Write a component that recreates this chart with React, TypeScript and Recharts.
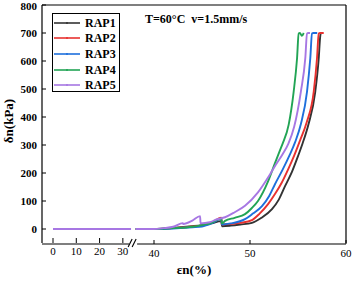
import React from "react";
import { Label, Legend, Line, LineChart, ReferenceDot, XAxis, YAxis } from "recharts";

const serif = "'Liberation Serif', 'Times New Roman', serif";

const seriesNames = ["RAP1", "RAP2", "RAP3", "RAP4", "RAP5"];
const seriesColors = ["#333333", "#e8312f", "#1e6fdc", "#22a455", "#a777e3"];

// before the axis break: stress stays at 0
const leftPart: [number, number][] = [
  [0, 0],
  [33.5, 0],
];

// after the axis break, [strain %, stress kPa]
const rap1: [number, number][] = [
  [38.1, 0], [40, 0], [42, 4], [44, 10], [45, 14], [46, 20], [47, 28], [47.08, 10],
  [48, 12], [49, 16], [50.2, 22], [51.2, 40], [52.29, 71], [53, 105], [53.65, 153],
  [54.38, 205], [55, 260], [55.5, 308], [56.1, 375], [56.8, 491], [57.16, 610],
  [57.32, 690], [57.4, 700], [57.6, 700],
];
const rap2: [number, number][] = [
  [38.1, 0], [40, 0], [42, 3], [44, 9], [45, 13], [46, 22], [47, 40], [47.08, 16],
  [48, 18], [49, 22], [50.2, 32], [51, 55], [51.88, 89], [52.6, 125], [53.33, 167],
  [53.96, 212], [54.6, 262], [55.2, 315], [55.9, 380], [56.64, 491], [56.98, 610],
  [57.16, 698], [57.3, 700], [57.68, 700],
];
const rap3: [number, number][] = [
  [38.1, 0], [40, 0], [42, 2], [44, 6], [45, 9], [46, 20], [47, 36], [47.08, 16],
  [48, 20], [49.48, 35], [50.3, 55], [51.25, 82], [52, 118], [52.6, 160], [53.4, 212],
  [54.1, 262], [54.7, 310], [55.3, 375], [55.94, 491], [56.28, 610], [56.46, 698],
  [56.6, 700], [57, 700],
];
const rap4: [number, number][] = [
  [38.1, 0], [40, 0], [42, 3], [44, 8], [45, 14], [46, 22], [47, 38], [47.08, 20],
  [47.4, 29], [48.4, 40], [49.48, 53], [50.2, 75], [50.83, 100], [51.88, 170],
  [52.6, 235], [53.13, 282], [53.4, 305], [54.03, 373], [54.55, 491], [54.9, 609],
  [55.07, 698], [55.2, 700], [55.4, 690], [55.6, 700],
];
const rap5: [number, number][] = [
  [38.1, 0], [40, 0], [41, 3], [42, 8], [43, 21], [43.05, 18], [44, 30], [44.8, 46],
  [44.85, 20], [45.8, 24], [46.5, 34], [47.4, 42], [48.4, 60], [49.48, 83],
  [50.83, 131], [52.08, 195], [52.7, 230], [53.41, 268], [54, 305], [54.6, 365],
  [55.3, 491], [55.76, 610], [55.94, 698], [56.05, 700], [56.25, 700],
];

const rightParts = [rap1, rap2, rap3, rap4, rap5];

const leftTicks = [0, 10, 20, 30];
const rightTicks = [40, 50, 60];
const yTicks = [0, 100, 200, 300, 400, 500, 600, 700, 800];

const toRows = (pts: [number, number][]) => pts.map(([x, y]) => ({ x, y }));

const BreakMark = (props: any) => {
  const { cx, cy } = props;
  return (
    <g>
      <rect x={cx - 4} y={cy - 3} width={8} height={6} fill="#fff" />
      <line x1={cx - 5} y1={cy + 4} x2={cx - 1} y2={cy - 4} stroke="#000" strokeWidth={1.1} />
      <line x1={cx - 1} y1={cy + 4} x2={cx + 3} y2={cy - 4} stroke="#000" strokeWidth={1.1} />
    </g>
  );
};

const LegendBox = (props: any) => {
  const items = (props.payload || []).filter((p: any) => p.type !== "none");
  return (
    <div
      style={{
        border: "1px solid #000",
        background: "#fff",
        width: 68,
        height: 79,
        paddingTop: 1,
        boxSizing: "border-box",
      }}
    >
      {items.map((p: any) => (
        <div key={p.value} style={{ display: "flex", alignItems: "center", height: 15.6 }}>
          <svg width={32} height={8} style={{ flex: "none" }}>
            <line x1={1} y1={4} x2={27} y2={4} stroke={p.color} strokeWidth={1.6} />
            <circle cx={14} cy={4} r={1} fill={p.color} />
          </svg>
          <span
            style={{
              fontFamily: serif,
              fontWeight: "bold",
              fontSize: 12,
              lineHeight: "12px",
              color: "#000",
            }}
          >
            {p.value}
          </span>
        </div>
      ))}
    </div>
  );
};

export default function App() {
  return (
    <div style={{ position: "absolute", left: 0, top: 0, width: 352, height: 283, background: "#fff" }}>
      <LineChart width={352} height={283} margin={{ top: 4, right: 5, bottom: 38, left: 0 }}>
        <XAxis
          xAxisId="right"
          dataKey="x"
          type="number"
          domain={[38, 60]}
          ticks={rightTicks}
          padding={{ left: 92.8, right: 0 }}
          height={1}
          axisLine={{ stroke: "#000", strokeWidth: 1.2 }}
          tickLine={{ stroke: "#000" }}
          tickSize={-4}
          tickMargin={9}
          tick={{ fontSize: 11, fill: "#000", fontFamily: serif }}
        >
          <Label
            content={() => (
              <text x={194} y={274} textAnchor="middle" fontFamily={serif} fontWeight="bold" fontSize={13} fill="#000">
                εn(%)
              </text>
            )}
          />
        </XAxis>
        <XAxis
          xAxisId="left"
          dataKey="x"
          type="number"
          domain={[0, 35]}
          ticks={leftTicks}
          padding={{ left: 11, right: 211.5 }}
          height={1}
          axisLine={false}
          tickLine={{ stroke: "#000" }}
          tickSize={-5}
          tickMargin={9}
          tick={{ fontSize: 11, fill: "#000", fontFamily: serif }}
        />
        <XAxis
          xAxisId="top"
          orientation="top"
          type="number"
          domain={[0, 1]}
          height={1}
          tick={false}
          tickLine={false}
          axisLine={{ stroke: "#000", strokeWidth: 1.2 }}
        >
          <Label
            content={() => (
              <text x={145} y={23} fontFamily={serif} fontWeight="bold" fontSize={12} fill="#000">
                T=60°C{"\u00a0\u00a0"}v=1.5mm/s
              </text>
            )}
          />
        </XAxis>
        <YAxis
          type="number"
          domain={[-50, 800]}
          ticks={yTicks}
          width={42}
          axisLine={{ stroke: "#000", strokeWidth: 1.2 }}
          tickLine={{ stroke: "#000" }}
          tickSize={-4}
          tickMargin={9}
          tick={{ fontSize: 11, fill: "#000", fontFamily: serif, fontWeight: "bold" }}
        >
          <Label
            content={() => (
              <text
                x={13}
                y={121}
                transform="rotate(-90 13 121)"
                textAnchor="middle"
                fontFamily={serif}
                fontWeight="bold"
                fontSize={13}
                fill="#000"
              >
                δn(kPa)
              </text>
            )}
          />
        </YAxis>
        <YAxis
          yAxisId="r"
          orientation="right"
          type="number"
          domain={[0, 1]}
          width={1}
          tick={false}
          tickLine={false}
          axisLine={{ stroke: "#000", strokeWidth: 1.2 }}
        />
        {seriesNames.map((name, i) => (
          <Line
            key={name + "-a"}
            xAxisId="left"
            data={toRows(leftPart)}
            dataKey="y"
            name={name + " "}
            legendType="none"
            stroke={seriesColors[i]}
            strokeWidth={1.8}
            dot={false}
            isAnimationActive={false}
          />
        ))}
        {seriesNames.map((name, i) => (
          <Line
            key={name}
            xAxisId="right"
            type="monotone"
            data={toRows(rightParts[i])}
            dataKey="y"
            name={name}
            stroke={seriesColors[i]}
            strokeWidth={1.9}
            dot={false}
            isAnimationActive={false}
          />
        ))}
        <ReferenceDot xAxisId="left" x={34.4} y={-50} r={0} ifOverflow="visible" shape={BreakMark} />
        <Legend
          layout="horizontal"
          verticalAlign="middle"
          align="center"
          content={LegendBox}
          wrapperStyle={{ position: "absolute", left: 52, top: 13, width: 70, height: 81 }}
        />
      </LineChart>
    </div>
  );
}
